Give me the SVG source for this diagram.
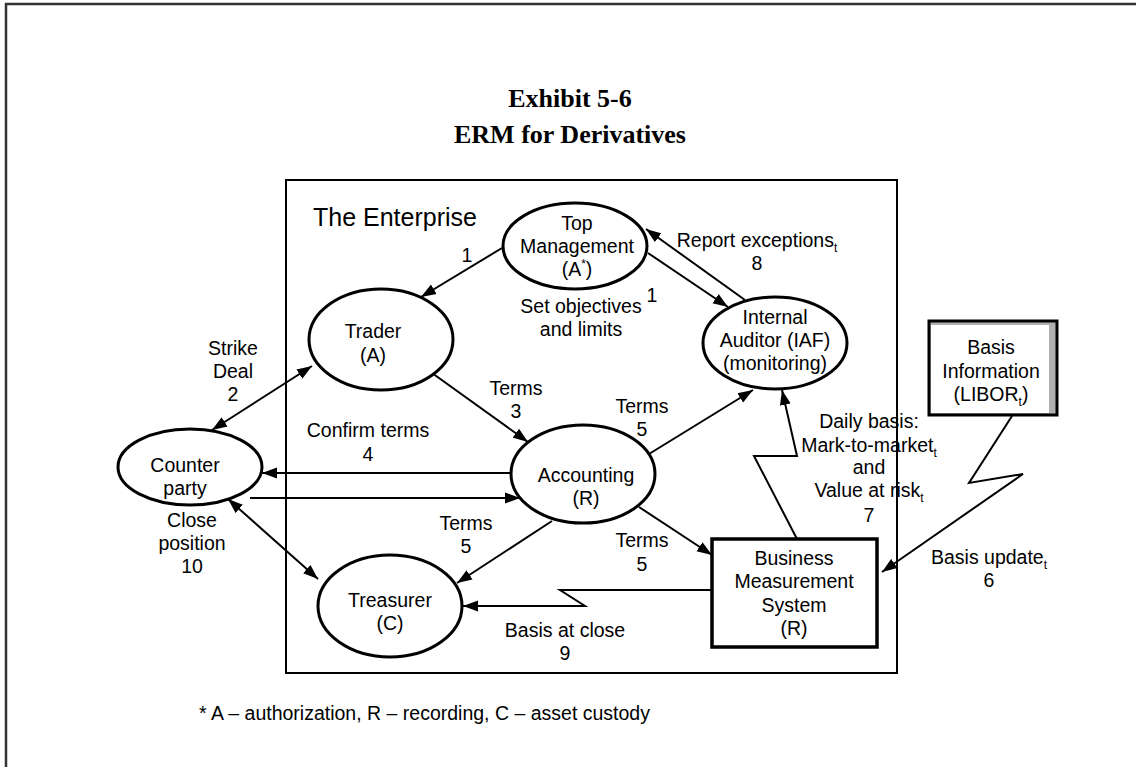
<svg xmlns="http://www.w3.org/2000/svg" width="1136" height="767" viewBox="0 0 1136 767">
  <defs>
    <marker id="arrow" markerUnits="userSpaceOnUse" markerWidth="16" markerHeight="12" refX="15" refY="6" orient="auto-start-reverse">
      <path d="M0,0.5 L15,6 L0,11.5 z" fill="#000"/>
    </marker>
    <style>
      .t { font-family: "Liberation Sans", Arial, sans-serif; font-size: 19.5px; fill: #000; text-anchor: middle; }
      .sub { font-size: 12px; }
      .title { font-family: "Liberation Serif", "Times New Roman", serif; font-weight: bold; font-size: 26px; text-anchor: middle; fill: #000; }
      .node { fill: #fff; stroke: #000; stroke-width: 3; }
      .conn { fill: none; stroke: #000; stroke-width: 2; }
    </style>
  </defs>

  <rect width="1136" height="767" fill="#fff"/>
  <!-- page frame -->
  <rect x="6" y="4" width="1200" height="900" fill="none" stroke="#333" stroke-width="2.5"/>

  <!-- title -->
  <g id="title">
    <text class="title" x="570" y="107">Exhibit 5-6</text>
    <text class="title" x="570" y="143">ERM for Derivatives</text>
  </g>

  <!-- enterprise boundary -->
  <g id="enterprise">
    <rect x="286" y="180" width="611" height="493" fill="none" stroke="#000" stroke-width="2"/>
    <text x="313" y="226" font-family="Liberation Sans, Arial, sans-serif" font-size="25">The Enterprise</text>
  </g>

  <!-- connectors -->
  <g id="connectors">
    <path class="conn" d="M502,248 L421,297" marker-end="url(#arrow)"/>
    <path class="conn" d="M648,253 L728,307" marker-end="url(#arrow)"/>
    <path class="conn" d="M745,300 L646,229" marker-end="url(#arrow)"/>
    <path class="conn" d="M212,430 L312,366" marker-start="url(#arrow)" marker-end="url(#arrow)"/>
    <path class="conn" d="M432,373 L528,442" marker-end="url(#arrow)"/>
    <path class="conn" d="M511,473 L262,473" marker-end="url(#arrow)"/>
    <path class="conn" d="M250,498 L520,498" marker-end="url(#arrow)"/>
    <path class="conn" d="M649,454 L753,390" marker-end="url(#arrow)"/>
    <path class="conn" d="M639,507 L712,555" marker-end="url(#arrow)"/>
    <path class="conn" d="M552,521 L457,583" marker-end="url(#arrow)"/>
    <path class="conn" d="M228,499 L318,579" marker-start="url(#arrow)" marker-end="url(#arrow)"/>
    <path class="conn" d="M797,539 L754,456 L797,456 L782,390" marker-end="url(#arrow)"/>
    <path class="conn" d="M1012,416 L969,483 L1023,474 L882,572" marker-end="url(#arrow)"/>
    <path class="conn" d="M713,590 L560,590 L585,606 L463,606" marker-end="url(#arrow)"/>
  </g>

  <!-- connector labels -->
  <g id="labels">
    <text class="t" x="467" y="262">1</text>
    <text class="t" x="652" y="302">1</text>
    <text class="t" x="581" y="313">Set objectives</text>
    <text class="t" x="581" y="336">and limits</text>
    <text class="t" x="757" y="247">Report exceptions<tspan class="sub" dy="5">t</tspan></text>
    <text class="t" x="757" y="270">8</text>
    <text class="t" x="233" y="355">Strike</text>
    <text class="t" x="233" y="378">Deal</text>
    <text class="t" x="233" y="401">2</text>
    <text class="t" x="516" y="395">Terms</text>
    <text class="t" x="516" y="418">3</text>
    <text class="t" x="368" y="437">Confirm terms</text>
    <text class="t" x="368" y="461">4</text>
    <text class="t" x="642" y="413">Terms</text>
    <text class="t" x="642" y="436">5</text>
    <text class="t" x="466" y="530">Terms</text>
    <text class="t" x="466" y="553">5</text>
    <text class="t" x="642" y="547">Terms</text>
    <text class="t" x="642" y="571">5</text>
    <text class="t" x="869" y="428">Daily basis:</text>
    <text class="t" x="869" y="452">Mark-to-market<tspan class="sub" dy="5">t</tspan></text>
    <text class="t" x="869" y="474">and</text>
    <text class="t" x="869" y="497">Value at risk<tspan class="sub" dy="5">t</tspan></text>
    <text class="t" x="869" y="522">7</text>
    <text class="t" x="989" y="564">Basis update<tspan class="sub" dy="5">t</tspan></text>
    <text class="t" x="989" y="587">6</text>
    <text class="t" x="192" y="527">Close</text>
    <text class="t" x="192" y="550">position</text>
    <text class="t" x="192" y="573">10</text>
    <text class="t" x="565" y="637">Basis at close</text>
    <text class="t" x="565" y="660">9</text>
  </g>

  <!-- nodes -->
  <g id="top-management">
    <ellipse class="node" cx="575" cy="246" rx="72" ry="43"/>
    <text class="t" x="577" y="230">Top</text>
    <text class="t" x="577" y="253">Management</text>
    <text class="t" x="577" y="276">(A<tspan class="sub" dy="-8">*</tspan><tspan dy="8">)</tspan></text>
  </g>

  <g id="trader">
    <ellipse class="node" cx="381" cy="339.5" rx="72" ry="50.5"/>
    <text class="t" x="373" y="338">Trader</text>
    <text class="t" x="373" y="362">(A)</text>
  </g>

  <g id="internal-auditor">
    <ellipse class="node" cx="775" cy="343" rx="72" ry="46"/>
    <text class="t" x="775" y="324">Internal</text>
    <text class="t" x="775" y="347">Auditor (IAF)</text>
    <text class="t" x="775" y="370">(monitoring)</text>
  </g>

  <g id="counter-party">
    <ellipse class="node" cx="190" cy="467" rx="72" ry="38"/>
    <text class="t" x="185" y="472">Counter</text>
    <text class="t" x="185" y="495">party</text>
  </g>

  <g id="accounting">
    <ellipse class="node" cx="583" cy="474" rx="72" ry="49"/>
    <text class="t" x="586" y="482">Accounting</text>
    <text class="t" x="586" y="505">(R)</text>
  </g>

  <g id="treasurer">
    <ellipse class="node" cx="390" cy="606" rx="72" ry="51"/>
    <text class="t" x="390" y="607">Treasurer</text>
    <text class="t" x="390" y="630">(C)</text>
  </g>

  <g id="business-measurement-system">
    <rect x="712" y="539" width="165" height="108" fill="#fff" stroke="#000" stroke-width="3.5"/>
    <text class="t" x="794" y="565">Business</text>
    <text class="t" x="794" y="588">Measurement</text>
    <text class="t" x="794" y="612">System</text>
    <text class="t" x="794" y="635">(R)</text>
  </g>

  <g id="basis-information">
    <rect x="929" y="321" width="128" height="94" fill="#b0b0b0" stroke="#000" stroke-width="3"/>
    <rect x="931" y="325" width="118" height="88" fill="#fff"/>
    <text class="t" x="991" y="354">Basis</text>
    <text class="t" x="991" y="378">Information</text>
    <text class="t" x="991" y="401">(LIBOR<tspan class="sub" dy="5">t</tspan><tspan dy="-5">)</tspan></text>
  </g>

  <!-- footnote -->
  <text x="199" y="720" font-family="Liberation Sans, Arial, sans-serif" font-size="19.5">* A – authorization, R – recording, C – asset custody</text>
</svg>
